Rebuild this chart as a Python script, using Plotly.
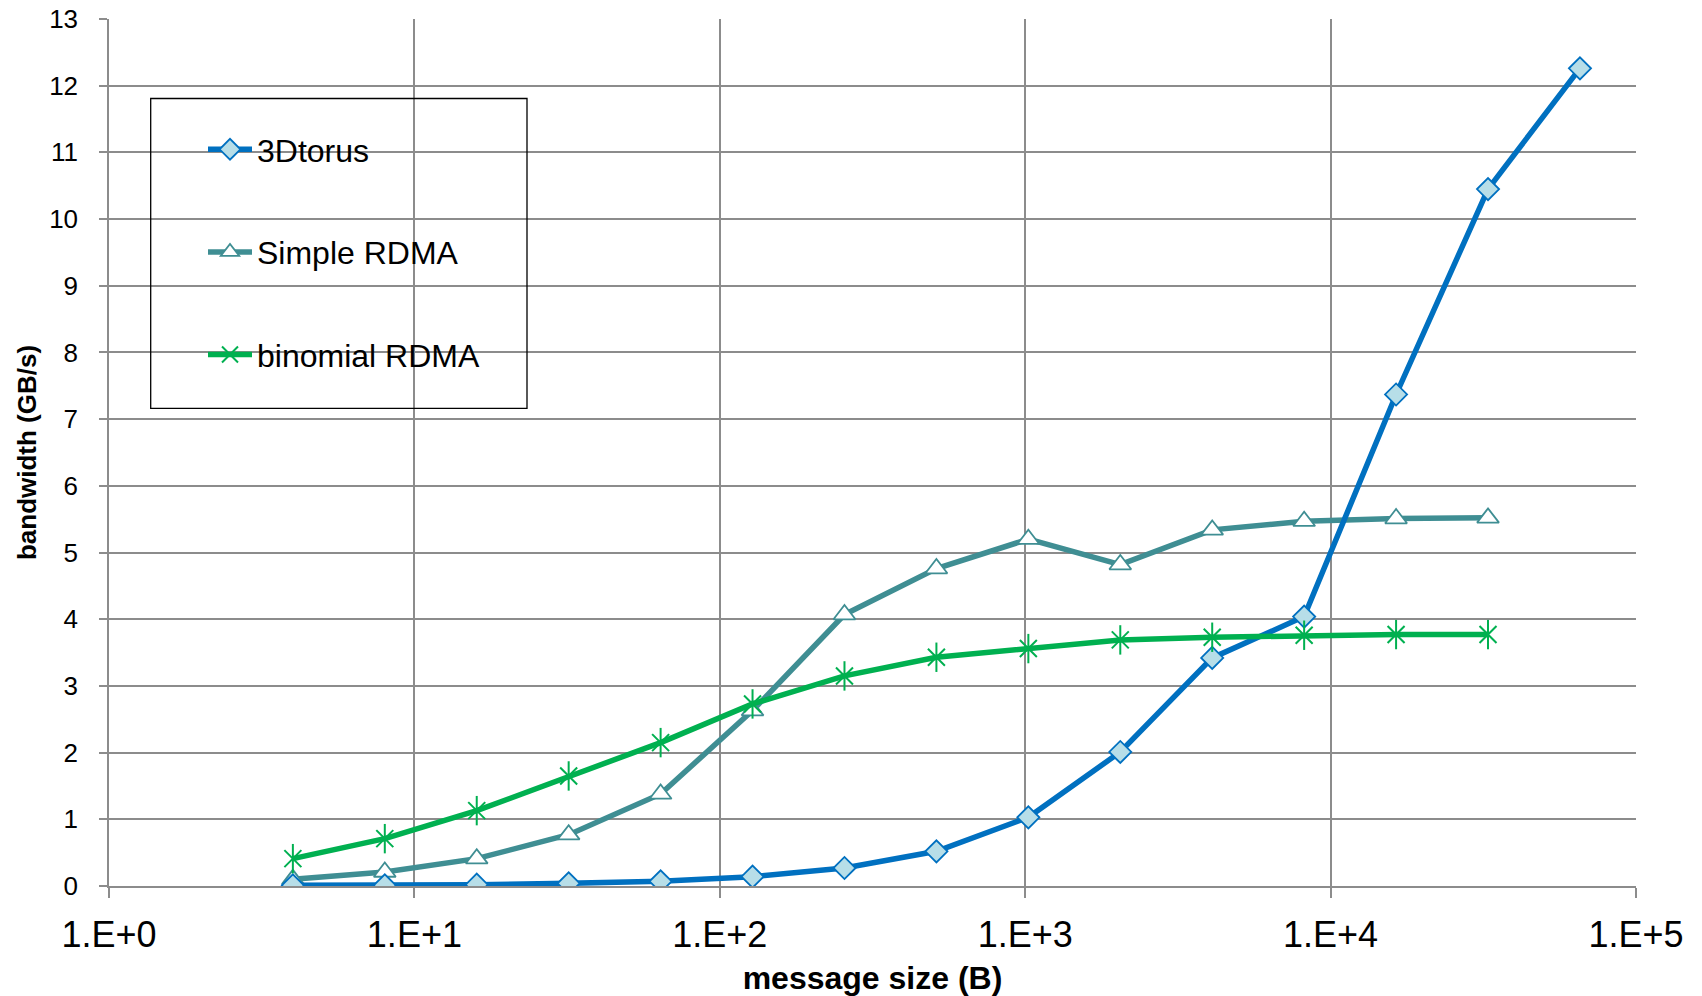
import plotly.graph_objects as go

sizes_torus = [4, 8, 16, 32, 64, 128, 256, 512, 1024, 2048, 4096, 8192, 16384, 32768, 65536]
bw_torus = [0.01, 0.01, 0.02, 0.04, 0.07, 0.14, 0.27, 0.52, 1.03, 2.01, 3.42, 4.04, 7.37, 10.45, 12.26]

sizes_rdma = [4, 8, 16, 32, 64, 128, 256, 512, 1024, 2048, 4096, 8192, 16384, 32768]
bw_simple = [0.10, 0.21, 0.41, 0.77, 1.38, 2.63, 4.07, 4.76, 5.20, 4.82, 5.34, 5.47, 5.51, 5.52]
bw_binomial = [0.41, 0.71, 1.13, 1.65, 2.15, 2.73, 3.15, 3.43, 3.56, 3.69, 3.73, 3.76, 3.77, 3.77]

x_tickvals = [1, 10, 100, 1000, 10000, 100000]
x_ticktext = ["1.E+0", "1.E+1", "1.E+2", "1.E+3", "1.E+4", "1.E+5"]
y_tickvals = list(range(0, 14))

BLUE = "#0070C0"
TEAL = "#3F8E93"
GREEN = "#00B050"
GRID = "#8C8C8C"
FONT = "Liberation Sans, Arial, sans-serif"

fig = go.Figure()

fig.add_trace(go.Scatter(
    x=sizes_rdma, y=bw_simple, name="Simple RDMA", mode="lines+markers",
    line=dict(color=TEAL, width=5.5),
    marker=dict(symbol="triangle-up", size=19, color="white", line=dict(color=TEAL, width=1.8)),
    legendgroup="b", legendrank=2,
))
fig.add_trace(go.Scatter(
    x=sizes_torus, y=bw_torus, name="3Dtorus", mode="lines+markers",
    line=dict(color=BLUE, width=5.5),
    marker=dict(symbol="diamond", size=17, color="#B7DEE8", line=dict(color=BLUE, width=1.8)),
    legendgroup="a", legendrank=1,
))
fig.add_trace(go.Scatter(
    x=sizes_rdma, y=bw_binomial, name="binomial RDMA", mode="lines+markers",
    line=dict(color=GREEN, width=5.5),
    marker=dict(symbol="x-thin-open", size=17, color=GREEN, line=dict(color=GREEN, width=2)),
    legendgroup="c", legendrank=3,
))
fig.add_trace(go.Scatter(
    x=sizes_rdma, y=bw_binomial, name="binomial RDMA", mode="markers",
    marker=dict(symbol="line-ns-open", size=21, color=GREEN, line=dict(color=GREEN, width=2)),
    legendgroup="c", showlegend=False, hoverinfo="skip",
))

# plot area in pixels
L, R, T, B = 109, 1636, 18.5, 885.7
W, H = 1702, 996

def px_x(p):
    return (p - L) / (R - L)

def px_y(p):
    return 1 - (p - T) / (B - T)

fig.add_shape(type="rect", xref="paper", yref="paper",
              x0=px_x(150.7), x1=px_x(527), y0=px_y(408), y1=px_y(98),
              line=dict(color="black", width=1.3), fillcolor="rgba(0,0,0,0)", layer="above")

fig.update_layout(
    width=W, height=H,
    margin=dict(l=L, r=W - R, t=T, b=H - B, pad=0, autoexpand=False),
    paper_bgcolor="white", plot_bgcolor="white",
    font=dict(family=FONT, color="black"),
    showlegend=True,
    legend=dict(
        x=px_x(203), y=px_y(121.5), xanchor="left", yanchor="top",
        bgcolor="rgba(0,0,0,0)", borderwidth=0,
        font=dict(size=32, family=FONT, color="black"),
        tracegroupgap=58, itemwidth=44,
    ),
    xaxis=dict(
        type="log", range=[0, 5], automargin=False,
        tickvals=x_tickvals, ticktext=x_ticktext,
        tickfont=dict(size=36, family=FONT, color="black"),
        ticks="outside", ticklen=10, tickwidth=1.5, tickcolor=GRID,
        showgrid=True, gridcolor=GRID, gridwidth=1.5,
        showline=True, linecolor=GRID, linewidth=1.5,
        zeroline=False,
        title=dict(text="<b>message size (B)</b>", font=dict(size=32, family=FONT, color="black"), standoff=14),
        ticklabelstandoff=6,
    ),
    yaxis=dict(
        range=[0, 13], automargin=False,
        tickvals=y_tickvals,
        tickfont=dict(size=26, family=FONT, color="black"),
        ticks="outside", ticklen=8, tickwidth=1.5, tickcolor=GRID,
        showgrid=True, gridcolor=GRID, gridwidth=1.5,
        showline=True, linecolor=GRID, linewidth=1.5,
        zeroline=False,
        title=dict(text="<b>bandwidth (GB/s)</b>", font=dict(size=26, family=FONT, color="black"), standoff=5),
        ticklabelstandoff=16,
    ),
)

fig.write_html("out.html")
